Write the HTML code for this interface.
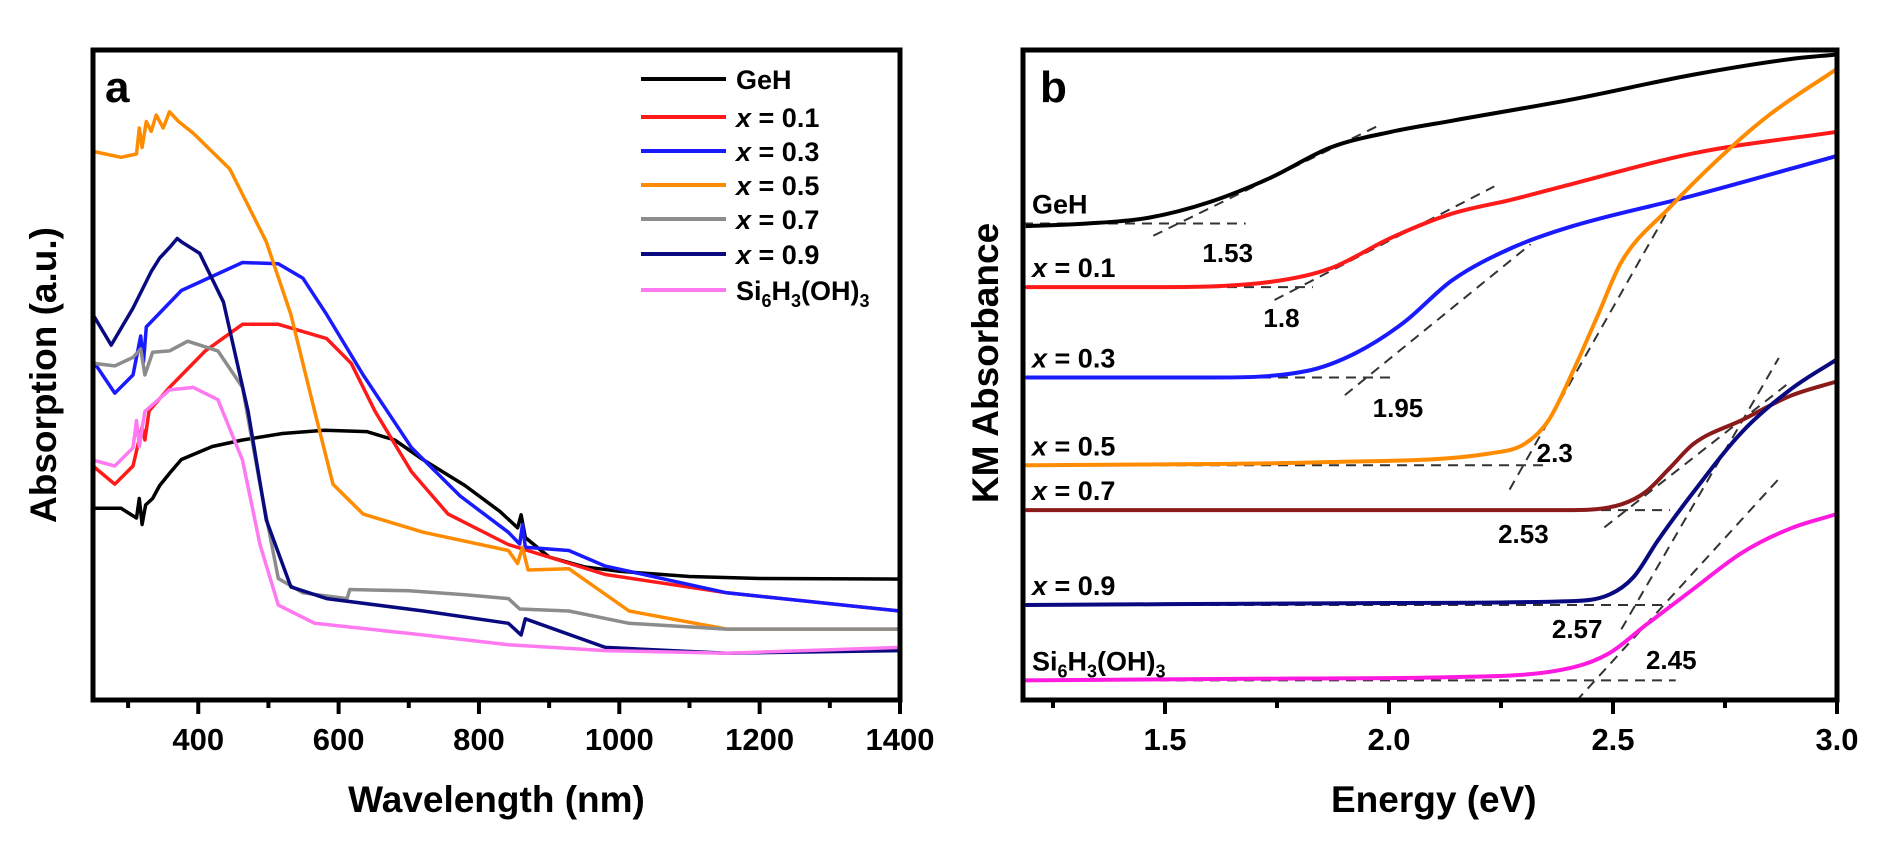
<!DOCTYPE html>
<html><head><meta charset="utf-8"><style>
html,body{margin:0;padding:0;background:#fff;}
svg{display:block;font-family:"Liberation Sans",Arial,sans-serif;font-weight:bold;}
</style></head><body>
<svg id="fig" width="1898" height="855" viewBox="0 0 1898 855" xmlns="http://www.w3.org/2000/svg">
<g id="pa"></g>
<g id="pb"></g>
</svg>
<script>
// ---------- Panel a data ----------
const aNames = ["GeH","x = 0.1","x = 0.3","x = 0.5","x = 0.7","x = 0.9","Si6H3(OH)3"];
const aColors = ["#000000","#ff1a1a","#1a1aff","#ff8c00","#8c8c8c","#0a0a80","#ff7af0"];
const aGeH = [[250,.295],[290,.295],[312,.28],[316,.31],[320,.27],[325,.3],[335,.31],[345,.33],[360,.35],[376,.37],[420,.39],[463,.40],[520,.41],[580,.415],[640,.413],[680,.40],[720,.37],[780,.33],[830,.29],[855,.265],[860,.285],[866,.25],[900,.22],[950,.205],[1000,.198],[1100,.19],[1200,.187],[1400,.186]];
const aX01 = [[250,.36],[281,.332],[307,.36],[320,.42],[324,.40],[330,.445],[359,.481],[410,.537],[463,.578],[514,.578],[583,.556],[618,.518],[652,.444],[704,.351],[756,.286],[842,.239],[980,.193],[1153,.165],[1400,.137]];
const aX03 = [[250,.522],[281,.472],[307,.5],[318,.56],[322,.52],[326,.574],[376,.63],[463,.673],[514,.671],[549,.649],[583,.593],[635,.5],[704,.388],[773,.314],[842,.258],[858,.24],[862,.27],[866,.235],[928,.23],[980,.206],[1153,.165],[1400,.137]];
const aX05 = [[250,.844],[290,.835],[312,.84],[316,.88],[320,.85],[326,.89],[333,.875],[340,.9],[350,.88],[359,.905],[372,.89],[393,.872],[445,.817],[497,.705],[532,.593],[566,.444],[592,.332],[635,.286],[721,.258],[842,.23],[855,.21],[862,.235],[870,.2],[928,.202],[1014,.137],[1153,.109],[1400,.109]];
const aX07 = [[250,.518],[281,.514],[307,.527],[318,.54],[324,.50],[335,.535],[359,.537],[385,.552],[428,.537],[463,.481],[488,.332],[514,.187],[549,.165],[612,.156],[616,.17],[700,.168],[780,.162],[842,.156],[858,.14],[928,.137],[1014,.118],[1153,.109],[1400,.109]];
const aX09 = [[250,.593],[276,.546],[307,.603],[333,.659],[345,.68],[359,.696],[370,.71],[376,.705],[402,.687],[436,.612],[471,.444],[497,.277],[532,.174],[583,.156],[721,.137],[842,.118],[860,.10],[866,.125],[980,.081],[1153,.072],[1400,.076]];
const aSi = [[250,.369],[281,.36],[307,.388],[312,.43],[316,.39],[324,.444],[359,.477],[393,.481],[428,.462],[463,.369],[488,.239],[514,.146],[566,.118],[721,.1],[842,.085],[980,.076],[1153,.072],[1400,.081]];
const aSeries = [aGeH,aX01,aX03,aX05,aX07,aX09,aSi];
const aTicks = [400,600,800,1000,1200,1400];
const aMinor = [300,500,700,900,1100,1300];

// ---------- Panel b data ----------
const bColors = ["#000000","#ff1a1a","#1a1aff","#ff8c00","#8b1a1a","#0a0a80","#ff1ae0"];
const bGeH = [[1.189,.723],[1.33,.727],[1.465,.736],[1.6,.76],[1.735,.797],[1.87,.844],[2.005,.868],[2.14,.885],[2.41,.918],[2.68,.956],[2.897,.98],[3.0,.987]];
const bX01 = [[1.189,.629],[1.465,.629],[1.735,.637],[1.87,.658],[2.005,.705],[2.14,.742],[2.276,.764],[2.41,.788],[2.68,.835],[3.0,.868]];
const bX03 = [[1.189,.49],[1.6,.49],[1.816,.5],[1.924,.527],[2.032,.574],[2.14,.639],[2.276,.69],[2.41,.723],[2.68,.77],[3.0,.831]];
const bX05 = [[1.189,.355],[1.87,.36],[2.222,.373],[2.303,.388],[2.357,.425],[2.411,.5],[2.465,.584],[2.519,.668],[2.627,.752],[2.735,.826],[2.843,.891],[3.0,.965]];
const bX07 = [[1.189,.286],[2.0,.286],[2.41,.286],[2.519,.295],[2.573,.314],[2.627,.351],[2.68,.388],[2.789,.425],[2.897,.462],[3.0,.484]];
const bX09 = [[1.189,.14],[2.0,.143],[2.41,.146],[2.492,.156],[2.546,.183],[2.6,.239],[2.68,.314],[2.789,.407],[2.897,.472],[3.0,.518]];
const bSi = [[1.189,.024],[1.8,.027],[2.14,.029],[2.41,.044],[2.492,.066],[2.573,.109],[2.68,.165],[2.789,.221],[2.897,.258],[3.0,.28]];
const bSeries = [bGeH,bX01,bX03,bX05,bX07,bX09,bSi];
const bGaps = [1.53,1.8,1.95,2.3,2.53,2.55,2.46];
const bGapLabels = ["1.53","1.8","1.95","2.3","2.53","2.57","2.45"];
const bBase = [.727,.629,.49,.355,.286,.14,.024];
const bBaseEnd = [1.68,1.83,2.005,2.35,2.627,2.627,2.64];
const bTanTop = [[1.978,.878],[2.235,.784],[2.316,.695],[2.627,.752],[2.897,.484],[2.87,.52],[2.87,.334]];
const bTicks = [1.5,2.0,2.5,3.0];
const bMinor = [1.25,1.75,2.25,2.75];

const NS="http://www.w3.org/2000/svg";
function mk(parent,tag,attrs,text){const e=document.createElementNS(NS,tag);for(const k in attrs)e.setAttribute(k,attrs[k]);if(text!==undefined)e.textContent=text;parent.appendChild(e);return e;}
// monotone cubic (Fritsch-Carlson) path through pixel points with increasing x
function smooth(p){
  const n=p.length,d=[],m=[];
  for(let i=0;i<n-1;i++)d.push((p[i+1][1]-p[i][1])/(p[i+1][0]-p[i][0]));
  m[0]=d[0];m[n-1]=d[n-2];
  for(let i=1;i<n-1;i++){m[i]=(d[i-1]*d[i]<=0)?0:(d[i-1]+d[i])/2;}
  for(let i=0;i<n-1;i++){
    if(d[i]===0){m[i]=0;m[i+1]=0;continue;}
    const a=m[i]/d[i],b=m[i+1]/d[i],s=a*a+b*b;
    if(s>9){const t=3/Math.sqrt(s);m[i]=t*a*d[i];m[i+1]=t*b*d[i];}
  }
  let s='M'+p[0][0].toFixed(1)+','+p[0][1].toFixed(1);
  for(let i=0;i<n-1;i++){
    const h=(p[i+1][0]-p[i][0])/3;
    s+=' C'+(p[i][0]+h).toFixed(1)+','+(p[i][1]+m[i]*h).toFixed(1)+' '+(p[i+1][0]-h).toFixed(1)+','+(p[i+1][1]-m[i+1]*h).toFixed(1)+' '+p[i+1][0].toFixed(1)+','+p[i+1][1].toFixed(1);
  }
  return s;
}

const A={l:93,r:900,t:50,b:700};
const ax=w=>A.l+(w-250)/(1400-250)*(A.r-A.l);
const ay=v=>A.b-v*(A.b-A.t);
const B={l:1023,r:1837,t:50,b:700};
const bx=e=>B.l+(e-1.183)/(3.0-1.183)*(B.r-B.l);
const by=v=>B.b-v*(B.b-B.t)-4;

const pa=document.getElementById('pa');
const pb=document.getElementById('pb');

aSeries.forEach((s,i)=>{
  const p=mk(pa,'polyline',{points:s.map(d=>ax(d[0]).toFixed(1)+','+ay(d[1]).toFixed(1)).join(' '),fill:'none',stroke:aColors[i],'stroke-width':3.5,'stroke-linejoin':'round'});
  
  
});
let f=mk(pa,'rect',{x:A.l,y:A.t,width:A.r-A.l,height:A.b-A.t,fill:'none',stroke:'#000','stroke-width':5});


aTicks.forEach(t=>{
  const l=mk(pa,'line',{x1:ax(t),x2:ax(t),y1:A.b,y2:A.b+14,stroke:'#000','stroke-width':4});
  
  
  const tx=mk(pa,'text',{x:ax(t),y:A.b+50,'font-size':31,'text-anchor':'middle'},String(t));
  
  
});
aMinor.forEach(t=>{
  const l=mk(pa,'line',{x1:ax(t),x2:ax(t),y1:A.b,y2:A.b+8,stroke:'#000','stroke-width':4});
  
  
});
let t1=mk(pa,'text',{x:ax(825),y:812,'font-size':37,'text-anchor':'middle'},'Wavelength (nm)');


let t2=mk(pa,'text',{x:0,y:0,'font-size':37,'text-anchor':'middle',transform:'translate(56,375) rotate(-90)'},'Absorption (a.u.)');


let t3=mk(pa,'text',{x:105,y:102,'font-size':44},'a');


const legY=[79,117,151,185,219,254,290];
aNames.forEach((n,i)=>{
  const g=mk(pa,'g',{});
  
  
  mk(g,'line',{x1:641,x2:726,y1:legY[i],y2:legY[i],stroke:aColors[i],'stroke-width':4});
  const tx=mk(g,'text',{x:736,y:legY[i]+10,'font-size':27});
  if(i===0){tx.textContent='GeH';}
  else if(i===6){tx.innerHTML='Si<tspan font-size="18" dy="7">6</tspan><tspan dy="-7">H</tspan><tspan font-size="18" dy="7">3</tspan><tspan dy="-7">(OH)</tspan><tspan font-size="18" dy="7">3</tspan>';}
  else{tx.innerHTML='<tspan font-style="italic">x</tspan> = '+n.slice(4);}
});

bSeries.forEach((s,i)=>{
  const y0=by(bBase[i]);
  const l=mk(pb,'line',{x1:B.l,x2:bx(bBaseEnd[i]),y1:y0,y2:y0,stroke:'#333','stroke-width':2,'stroke-dasharray':'10,7'});
  
  
  const tt=bTanTop[i];
  const x0=bx(bGaps[i]);
  const x1=bx(tt[0]),y1=by(tt[1]);
  const len=Math.hypot(x1-x0,y1-y0);
  const ex=x0-(x1-x0)/len*28, ey=y0-(y1-y0)/len*28;
  const tl=mk(pb,'line',{x1:ex,y1:ey,x2:x1,y2:y1,stroke:'#333','stroke-width':2,'stroke-dasharray':'10,7'});
  
  
});
bSeries.forEach((s,i)=>{
  const p=mk(pb,'path',{d:smooth(s.map(d=>[bx(d[0]),by(d[1])])),fill:'none',stroke:bColors[i],'stroke-width':4,'stroke-linejoin':'round'});
  
  
});
const gapLabelPos=[[1.64,262],[1.76,327],[2.02,417],[2.37,462],[2.30,543],[2.42,638],[2.63,669]];
bGapLabels.forEach((g,i)=>{
  const tx=mk(pb,'text',{x:bx(gapLabelPos[i][0]),y:gapLabelPos[i][1],'font-size':26,'text-anchor':'middle'},g);
  
  
});
aNames.forEach((n,i)=>{
  const tx=mk(pb,'text',{x:1032,y:by(bBase[i])-10,'font-size':27});
  
  
  if(i===0){tx.textContent='GeH';}
  else if(i===6){tx.innerHTML='Si<tspan font-size="18" dy="7">6</tspan><tspan dy="-7">H</tspan><tspan font-size="18" dy="7">3</tspan><tspan dy="-7">(OH)</tspan><tspan font-size="18" dy="7">3</tspan>';}
  else{tx.innerHTML='<tspan font-style="italic">x</tspan> = '+n.slice(4);}
});
let fb=mk(pb,'rect',{x:B.l,y:B.t,width:B.r-B.l,height:B.b-B.t,fill:'none',stroke:'#000','stroke-width':5});


bTicks.forEach(t=>{
  const l=mk(pb,'line',{x1:bx(t),x2:bx(t),y1:B.b,y2:B.b+14,stroke:'#000','stroke-width':4});
  
  
  const tx=mk(pb,'text',{x:bx(t),y:B.b+50,'font-size':31,'text-anchor':'middle'},t.toFixed(1));
  
  
});
bMinor.forEach(t=>{
  const l=mk(pb,'line',{x1:bx(t),x2:bx(t),y1:B.b,y2:B.b+8,stroke:'#000','stroke-width':4});
  
  
});
let t4=mk(pb,'text',{x:bx(2.1),y:812,'font-size':37,'text-anchor':'middle'},'Energy (eV)');


let t5=mk(pb,'text',{x:0,y:0,'font-size':37,'text-anchor':'middle',transform:'translate(998,363) rotate(-90)'},'KM Absorbance');


let t6=mk(pb,'text',{x:1040,y:102,'font-size':44},'b');


</script>
</body></html>
